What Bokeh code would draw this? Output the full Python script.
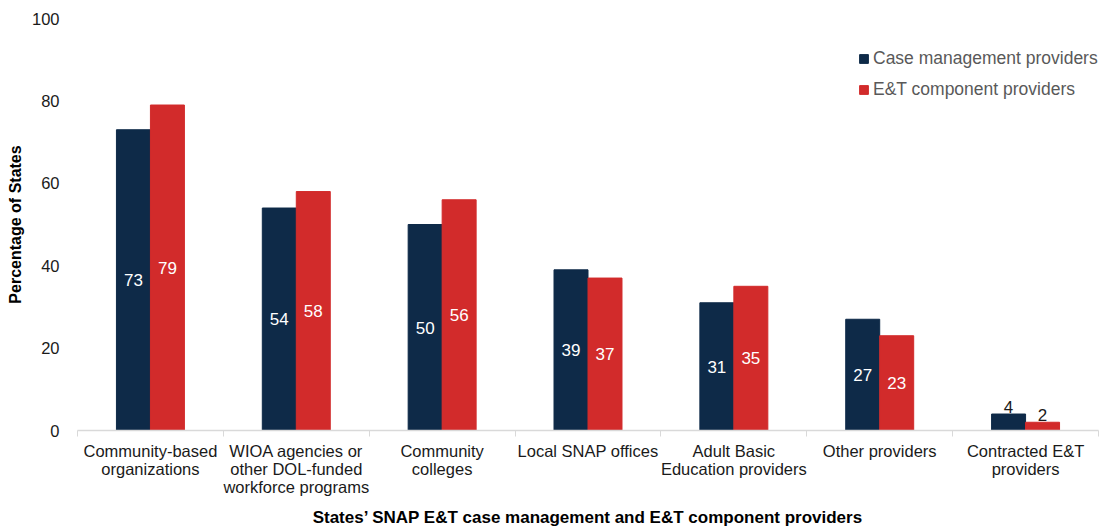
from bokeh.plotting import figure
from bokeh.models import ColumnDataSource, FixedTicker, Range1d, Legend, LegendItem
from bokeh.core.properties import value
from bokeh.embed import file_html
from bokeh.resources import INLINE

categories = ["Community-based\norganizations",
              "WIOA agencies or\nother DOL-funded\nworkforce programs",
              "Community\ncolleges",
              "Local SNAP offices",
              "Adult Basic\nEducation providers",
              "Other providers",
              "Contracted E&T\nproviders"]
case_mgmt = [73, 54, 50, 39, 31, 27, 4]
et_comp = [79, 58, 56, 37, 35, 23, 2]
series_names = ["Case management providers", "E&T component providers"]
y_ticks = [0, 20, 40, 60, 80, 100]

NAVY = "#0e2a48"
RED = "#d22b2b"
FONT = "Liberation Sans"

p = figure(width=1099, height=529, output_backend="svg", toolbar_location=None,
           x_range=Range1d(0, len(categories)), y_range=Range1d(0, 100),
           min_border_left=77, min_border_right=1, min_border_top=18, min_border_bottom=97)
p.outline_line_color = None
p.grid.visible = False
p.background_fill_color = "white"

n = len(categories)
bw = 0.233
xc = [i + 0.5 for i in range(n)]
src1 = ColumnDataSource(dict(x=[c - bw / 2 for c in xc], top=case_mgmt))
src2 = ColumnDataSource(dict(x=[c + bw / 2 for c in xc], top=et_comp))
r1 = p.vbar(x="x", top="top", width=bw, bottom=0, source=src1, fill_color=NAVY, line_color=NAVY)
r2 = p.vbar(x="x", top="top", width=bw, bottom=0, source=src2, fill_color=RED, line_color=RED)

# labels
def label_data(xs, vals):
    inside = dict(x=[], y=[], t=[])
    above = dict(x=[], y=[], t=[])
    for x, v in zip(xs, vals):
        if v >= 10:
            inside["x"].append(x); inside["y"].append(v / 2); inside["t"].append(str(v))
        else:
            above["x"].append(x); above["y"].append(v); above["t"].append(str(v))
    return inside, above

for xs, vals in ((src1.data["x"], case_mgmt), (src2.data["x"], et_comp)):
    ins, abv = label_data(xs, vals)
    p.text(x="x", y="y", text="t", source=ColumnDataSource(ins), text_color="white",
           text_font=value(FONT), text_font_size="17px", text_align="center", text_baseline="middle")
    p.text(x="x", y="y", text="t", source=ColumnDataSource(abv), text_color="#1a1a1a",
           text_font=value(FONT), text_font_size="17px", text_align="center", text_baseline="bottom",
           y_offset=-1)

# x axis
xa = p.xaxis[0]
xa.ticker = FixedTicker(ticks=xc, minor_ticks=list(range(n + 1)))
xa.major_label_overrides = {x: c for x, c in zip(xc, categories)}
xa.major_tick_out = 0
xa.major_tick_in = 0
xa.minor_tick_out = 6
xa.minor_tick_in = 0
xa.minor_tick_line_color = "#d9d9d9"
xa.axis_line_color = "#d9d9d9"
xa.axis_line_width = 1.5
xa.major_label_text_font = FONT
xa.major_label_text_font_size = "16.5px"
xa.major_label_text_line_height = 1.0
xa.major_label_text_color = "#1a1a1a"
xa.major_label_standoff = 5
xa.axis_label = "States\u2019 SNAP E&T case management and E&T component providers"
xa.axis_label_text_font = FONT
xa.axis_label_text_font_style = "bold"
xa.axis_label_text_font_size = "17px"
xa.axis_label_text_color = "#000000"
xa.axis_label_standoff = 9

ya = p.yaxis[0]
ya.ticker = FixedTicker(ticks=y_ticks)
ya.axis_line_color = None
ya.major_tick_line_color = None
ya.minor_tick_line_color = None
ya.major_label_text_font = FONT
ya.major_label_text_font_size = "16.5px"
ya.major_label_text_color = "#1a1a1a"
ya.major_label_standoff = 12
ya.axis_label = "Percentage of States"
ya.axis_label_text_font = FONT
ya.axis_label_text_font_style = "bold"
ya.axis_label_text_font_size = "16px"
ya.axis_label_text_color = "#000000"
ya.axis_label_standoff = 5

legend = Legend(items=[LegendItem(label=series_names[0], renderers=[r1]),
                       LegendItem(label=series_names[1], renderers=[r2])],
                location=(781, 330))
legend.border_line_color = None
legend.background_fill_alpha = 0
legend.label_text_font = FONT
legend.label_text_font_size = "17.5px"
legend.label_text_color = "#595959"
legend.glyph_width = 11
legend.glyph_height = 11
legend.label_height = 20
legend.spacing = 10
legend.label_standoff = 4
legend.margin = 0
legend.padding = 0
p.add_layout(legend)

open("out.html", "w").write(file_html(p, INLINE))
